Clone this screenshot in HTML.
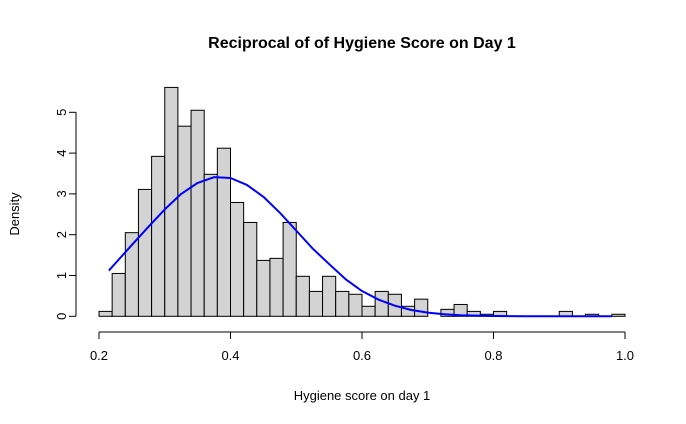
<!DOCTYPE html>
<html><head><meta charset="utf-8"><style>
body{margin:0;background:#fff}
svg{display:block;font-family:"Liberation Sans",Arial,sans-serif}
</style></head><body>
<svg id="chart" width="686" height="424">
<text x="362" y="48" text-anchor="middle" font-size="16" font-weight="bold">Reciprocal of of Hygiene Score on Day 1</text>
<text x="362" y="400" text-anchor="middle" font-size="13">Hygiene score on day 1</text>
<text transform="translate(19,214) rotate(-90)" text-anchor="middle" font-size="13">Density</text>
<g id="bars"></g>
<g id="axes"></g>
<path id="curve" fill="none" stroke="#0000ff" stroke-width="2" stroke-linejoin="round"></path>
</svg>
<script>
const binStarts=[0.20,0.22,0.24,0.26,0.28,0.30,0.32,0.34,0.36,0.38,0.40,0.42,0.44,0.46,0.48,0.50,0.52,0.54,0.56,0.58,0.60,0.62,0.64,0.66,0.68,0.70,0.72,0.74,0.76,0.78,0.80,0.82,0.84,0.86,0.88,0.90,0.92,0.94,0.96,0.98];
const densities=[0.12,1.05,2.05,3.11,3.92,5.61,4.66,5.05,3.48,4.12,2.79,2.30,1.37,1.42,2.30,0.98,0.61,0.98,0.61,0.54,0.245,0.61,0.54,0.245,0.42,0,0.17,0.29,0.12,0.05,0.12,0,0,0,0,0.12,0,0.05,0,0.05];
const curveX=[0.215,0.225,0.25,0.275,0.30,0.325,0.35,0.375,0.40,0.425,0.45,0.475,0.50,0.525,0.55,0.575,0.60,0.625,0.65,0.675,0.70,0.725,0.75,0.80,0.85,0.90,0.95,0.98];
const curveY=[1.12,1.30,1.75,2.19,2.62,3.00,3.27,3.41,3.39,3.22,2.93,2.54,2.10,1.66,1.28,0.91,0.62,0.41,0.26,0.155,0.09,0.049,0.025,0.006,0,0,0,0];
const xTicks=[0.2,0.4,0.6,0.8,1.0];
const xTickLabels=["0.2","0.4","0.6","0.8","1.0"];
const yTicks=[0,1,2,3,4,5];
const binWidth=0.02;
const NS="http://www.w3.org/2000/svg";
const xs=v=>99+(v-0.2)*657.5;
const ys=v=>316.3-v*40.8;
const bars=document.getElementById('bars');
binStarts.forEach((b,i)=>{
  const r=document.createElementNS(NS,'rect');
  const x0=xs(b),x1=xs(b+binWidth),y=ys(densities[i]);
  r.setAttribute('x',x0);r.setAttribute('y',y);
  r.setAttribute('width',x1-x0);r.setAttribute('height',316.3-y);
  r.setAttribute('fill','#d3d3d3');r.setAttribute('stroke','#000');r.setAttribute('stroke-width','1');
  
  
  bars.appendChild(r);
});
const ax=document.getElementById('axes');
function line(x1,y1,x2,y2){const l=document.createElementNS(NS,'line');l.setAttribute('x1',x1);l.setAttribute('y1',y1);l.setAttribute('x2',x2);l.setAttribute('y2',y2);l.setAttribute('stroke','#000');ax.appendChild(l);return l;}
function txt(x,y,s,rot){const t=document.createElementNS(NS,'text');t.textContent=s;t.setAttribute('font-size','13');t.setAttribute('text-anchor','middle');
  if(rot)t.setAttribute('transform',`translate(${x},${y}) rotate(-90)`);else{t.setAttribute('x',x);t.setAttribute('y',y);}ax.appendChild(t);return t;}
const xl=line(xs(xTicks[0]),332,xs(xTicks[xTicks.length-1]),332);


xTicks.forEach((v,i)=>{line(xs(v),332,xs(v),339);
  const t=txt(xs(v),360,xTickLabels[i]);
  
  });
const yl=line(76,ys(0),76,ys(yTicks[yTicks.length-1]));


yTicks.forEach(v=>{line(69,ys(v),76,ys(v));
  const t=txt(66,ys(v),String(v),true);
  
  });
document.getElementById('curve').setAttribute('d',curveX.map((x,i)=>(i?'L':'M')+xs(x)+','+ys(curveY[i])).join(' '));
</script>
</body></html>
